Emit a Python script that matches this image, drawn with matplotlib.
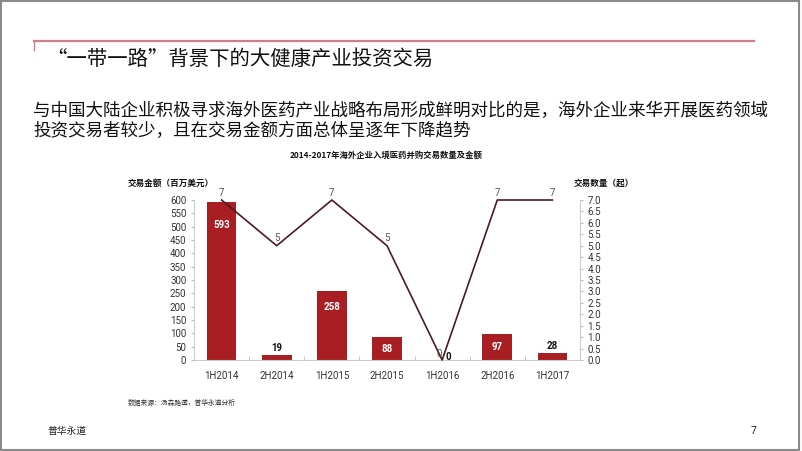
import matplotlib
matplotlib.use("Agg")
import matplotlib.pyplot as plt
from matplotlib.patches import Rectangle
from matplotlib.lines import Line2D
import numpy as np

plt.rcParams['font.family'] = ['Noto Sans CJK SC', 'DejaVu Sans']

categories = ['1H2014', '2H2014', '1H2015', '2H2015', '1H2016', '2H2016', '1H2017']
amount = [593, 19, 258, 88, 0, 97, 28]
count = [7, 5, 7, 5, 0, 7, 7]
left_ticks = [0, 50, 100, 150, 200, 250, 300, 350, 400, 450, 500, 550, 600]
right_ticks = [0.0, 0.5, 1.0, 1.5, 2.0, 2.5, 3.0, 3.5, 4.0, 4.5, 5.0, 5.5, 6.0, 6.5, 7.0]

W, H = 802, 451
fig = plt.figure(figsize=(W / 100, H / 100), dpi=100)
NUM = 'Roboto'

def fx(px):
    return px / W

def fy(py):
    return 1 - py / H

# slide border
fig.add_artist(Rectangle((fx(1), fy(450)), fx(798), 449 / H, transform=fig.transFigure,
                         fill=False, edgecolor='#8a8a8a', linewidth=1.5))
# top red rule
fig.add_artist(Line2D([fx(34), fx(754)], [fy(41), fy(41)], transform=fig.transFigure,
                      color='#cf7d8a', linewidth=1.6))
fig.add_artist(Line2D([fx(34), fx(34)], [fy(41), fy(50)], transform=fig.transFigure,
                      color='#cf7d8a', linewidth=1.0))

fig.text(fx(46), fy(59), '“一带一路”背景下的大健康产业投资交易', fontsize=14.7,
         ha='left', va='center', color='#111111', style='italic')
fig.text(fx(33), fy(111), '与中国大陆企业积极寻求海外医药产业战略布局形成鲜明对比的是，海外企业来华开展医药领域',
         fontsize=12.65, ha='left', va='center', color='#111111')
fig.text(fx(33), fy(131), '投资交易者较少，且在交易金额方面总体呈逐年下降趋势',
         fontsize=12.65, ha='left', va='center', color='#111111')

fig.text(fx(386), fy(155), '2014-2017年海外企业入境医药并购交易数量及金额', fontsize=6.0,
         fontweight='bold', ha='center', va='center', color='#111111')
fig.text(fx(128), fy(183), '交易金额（百万美元）', fontsize=6.2, fontweight='bold',
         ha='left', va='center', color='#111111')
fig.text(fx(574), fy(183), '交易数量（起）', fontsize=6.2, fontweight='bold',
         ha='left', va='center', color='#111111')
fig.text(fx(128), fy(403), '数据来源：汤森路透，普华永道分析', fontsize=4.9,
         ha='left', va='center', color='#333333')
fig.text(fx(48), fy(431), '普华永道', fontsize=7, ha='left', va='center', color='#222222')
fig.text(fx(751), fy(431), '7', fontsize=7.5, ha='left', va='center', color='#222222',
         family=NUM)

ax = fig.add_axes([fx(194), fy(360), fx(580) - fx(194), (360 - 200) / H])
x = np.arange(len(categories))
bar_color = '#a81e22'
ax.bar(x, amount, width=0.54, color=bar_color, zorder=2)
ax.set_xlim(-0.5, len(categories) - 0.5)
ax.set_ylim(0, 600)
ax.set_yticks(left_ticks)
ax.set_yticklabels([str(t) for t in left_ticks], family=NUM)
ax.set_xticks(x)
ax.set_xticklabels(categories, family=NUM)
ax.set_xticks(np.arange(len(categories) + 1) - 0.5, minor=True)
ax.tick_params(axis='x', which='major', length=0, labelsize=7, labelcolor='#333333', pad=8)
ax.tick_params(axis='x', which='minor', length=3, color='#bbbbbb', direction='in')
ax.tick_params(axis='y', length=2.5, color='#bbbbbb', labelsize=7, labelcolor='#333333', pad=3)
for s in ['top', 'right']:
    ax.spines[s].set_visible(False)
ax.spines['left'].set_color('#cccccc')
ax.spines['bottom'].set_color('#cccccc')
ax.patch.set_alpha(0)

# bar labels
for xi, v in zip(x, amount):
    if v >= 80:
        off_px = 11 + 0.02 * v
        ax.annotate(str(v), (xi, v), xytext=(0, -off_px * 0.72), textcoords='offset points',
                    ha='center', va='center', fontsize=7, fontweight='bold', color='white',
                    zorder=4, family=NUM)
    elif v == 0:
        ax.text(xi + 0.06, 12, str(v), ha='left', va='center', fontsize=7,
                fontweight='bold', color='#111111', zorder=4, family=NUM)
    else:
        ax.annotate(str(v), (xi, v), xytext=(0, 5), textcoords='offset points',
                    ha='center', va='center', fontsize=7, fontweight='bold', color='#111111',
                    zorder=4, family=NUM)

ax2 = ax.twinx()
ax2.set_ylim(0, 7)
ax2.set_yticks(right_ticks)
ax2.set_yticklabels([f'{t:.1f}' for t in right_ticks], family=NUM)
ax2.plot(x, count, color='#4e1a20', linewidth=1.2, zorder=5, clip_on=False)
for s in ['top', 'left', 'bottom']:
    ax2.spines[s].set_visible(False)
ax2.spines['right'].set_color('#cccccc')
ax2.tick_params(axis='y', length=2.5, color='#bbbbbb', labelsize=7, labelcolor='#333333', pad=3)
for xi, v in zip(x, count):
    if v == 0:
        ax2.text(xi - 0.05, v + 0.28, str(v), ha='center', va='center', fontsize=7,
                 color='#555555', zorder=6, family=NUM)
    else:
        ax2.text(xi, v + 0.32, str(v), ha='center', va='center', fontsize=7,
                 color='#555555', zorder=6, family=NUM)

fig.savefig('out.png', dpi=100)
